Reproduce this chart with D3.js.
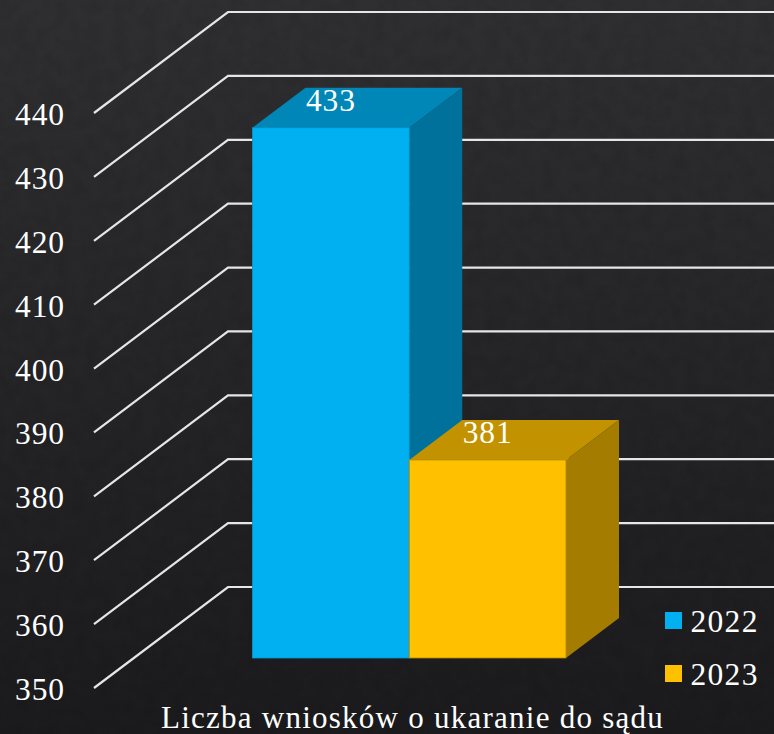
<!DOCTYPE html>
<html><head><meta charset="utf-8">
<script src="https://cdn.jsdelivr.net/npm/d3@7"></script>
<style>html,body{margin:0;padding:0;background:#222}svg{display:block}text{font-family:"Liberation Serif",serif;fill:#fff}</style>
</head><body><div id="c"></div>
<script>
const seriesNames = ["2022","2023"];
const seriesValues = [433,381];
const tickValues = [350,360,370,380,390,400,410,420,430,440];
const categoryLabel = ["Liczba wniosków o ukaranie do sądu"];
const colors = ["#00B0F0","#FFC000"];
const topColors = ["#0086B7","#C29200"];
const sideColors = ["#00719A","#A47C00"];
const edgeColors = ["#0098CF","#B38800"];

const W=774,H=734;
const svg=d3.select("#c").append("svg").attr("width",W).attr("height",H);
const defs=svg.append("defs");
const g=defs.append("linearGradient").attr("id","bg").attr("x1",0).attr("y1",0).attr("x2",0).attr("y2",1);
g.append("stop").attr("offset",0).attr("stop-color","#2f2f31");
g.append("stop").attr("offset",1).attr("stop-color","#1b1b1d");
const f=defs.append("filter").attr("id","tex").attr("x",0).attr("y",0).attr("width","100%").attr("height","100%");
f.append("feTurbulence").attr("type","fractalNoise").attr("baseFrequency",0.07).attr("numOctaves",3).attr("seed",4);
f.append("feColorMatrix").attr("values","0 0 0 0 0  0 0 0 0 0  0 0 0 0 0  0 0 0 -1.6 1.0");
svg.append("rect").attr("width",W).attr("height",H).attr("fill","url(#bg)");
svg.append("rect").attr("width",W).attr("height",H).attr("filter","url(#tex)").attr("opacity",0.09);

const y=d3.scaleLinear().domain([350,440]).range([688,113]);
const x=d3.scaleBand().domain(seriesNames).range([252.5,566]).padding(0);
const wallDx=134,wallDy=101;
const barDy=30;
const depthDx=53,depthDy=40;

svg.append("g").selectAll("path").data(tickValues).join("path")
 .attr("fill","none").attr("stroke","#e6e6e6").attr("stroke-width",2.2)
 .attr("d",d=>{const p=d3.path();p.moveTo(94,y(d));p.lineTo(94+wallDx,y(d)-wallDy);p.lineTo(W,y(d)-wallDy);return p.toString();});

svg.append("g").selectAll("text").data(tickValues).join("text")
 .attr("x",15).attr("y",d=>y(d)+12).attr("font-size",31.5).attr("letter-spacing",0.9).text(d=>d);

const bars=svg.append("g").selectAll("g").data(seriesNames.map((n,i)=>({n,i,v:seriesValues[i]}))).join("g");
const base=y(350)-barDy;
const ty=d=>y(d.v)-barDy;
const x0=d=>x(d.n), x1=d=>x(d.n)+x.bandwidth();
bars.append("path").attr("fill",d=>sideColors[d.i])
 .attr("d",d=>`M${x1(d)},${ty(d)}L${x1(d)+depthDx},${ty(d)-depthDy}L${x1(d)+depthDx},${base-depthDy}L${x1(d)},${base}Z`);
bars.append("path").attr("fill",d=>topColors[d.i])
 .attr("d",d=>`M${x0(d)},${ty(d)}L${x0(d)+depthDx},${ty(d)-depthDy}L${x1(d)+depthDx},${ty(d)-depthDy}L${x1(d)},${ty(d)}Z`);
bars.append("rect").attr("fill",d=>colors[d.i]).attr("stroke",d=>edgeColors[d.i]).attr("stroke-width",0.8)
 .attr("x",x0).attr("y",ty).attr("width",x.bandwidth()).attr("height",d=>base-ty(d));
bars.append("text").attr("x",d=>x0(d)+x.bandwidth()/2).attr("y",d=>ty(d)-17).attr("text-anchor","middle").attr("font-size",31.5).attr("letter-spacing",0.9).text(d=>d.v);

const lg=svg.append("g").selectAll("g").data(seriesNames).join("g").attr("transform",(d,i)=>`translate(665,${612+i*53})`);
lg.append("rect").attr("width",17).attr("height",17).attr("fill",(d,i)=>colors[i]);
lg.append("text").attr("x",25.5).attr("y",20).attr("font-size",31.5).attr("letter-spacing",1.3).text(d=>d);

svg.append("text").attr("x",412.5).attr("y",727.5).attr("text-anchor","middle").attr("font-size",31).attr("letter-spacing",1.25).text(categoryLabel[0]);
</script></body></html>
